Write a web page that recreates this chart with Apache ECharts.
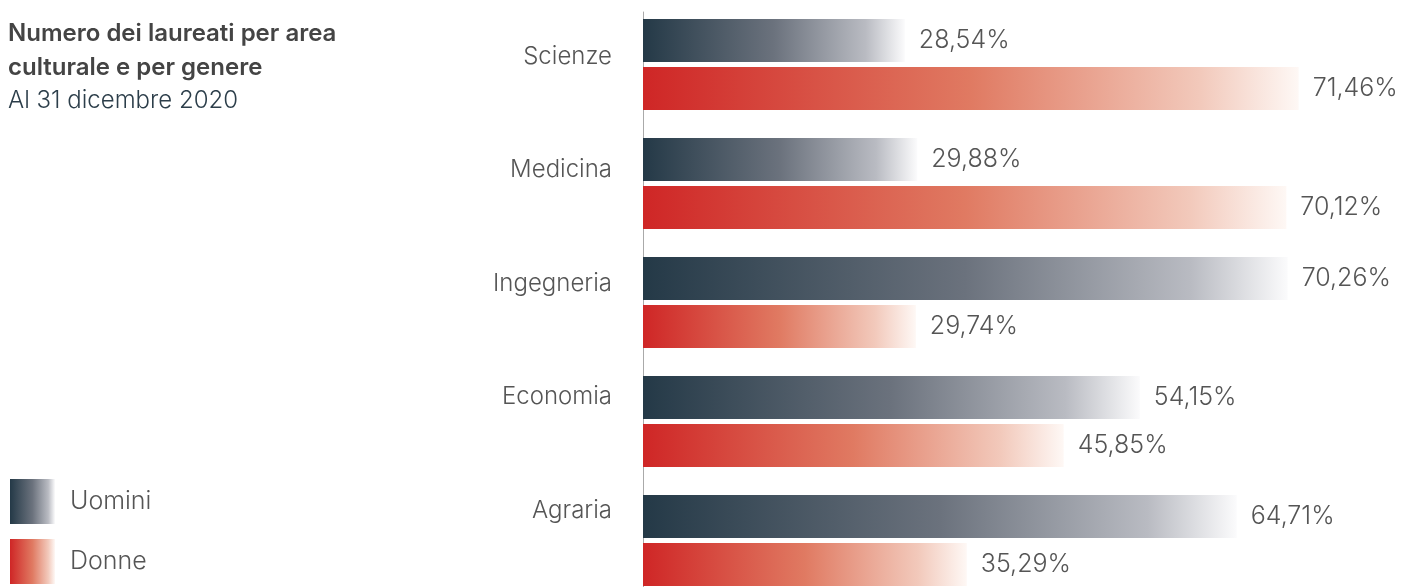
<!DOCTYPE html>
<html>
<head>
<meta charset="utf-8">
<script src="https://cdn.jsdelivr.net/npm/echarts@6/dist/echarts.min.js"></script>
<style>
    html, body { margin: 0; padding: 0; background: #fff; }
    #laureati { width: 1402px; height: 587px; }
</style>
</head>
<body>
<div id="laureati"></div>
<script>
// area culturale
var categories = ['Scienze', 'Medicina', 'Ingegneria', 'Economia', 'Agraria'];
// percentuali per genere
var uomini = [28.54, 29.88, 70.26, 54.15, 64.71];
var donne = [71.46, 70.12, 29.74, 45.85, 35.29];

var font = "Inter, 'Liberation Sans', Arial, sans-serif";

function percentLabel(p) {
    return p.value.toFixed(2).replace('.', ',') + '%';
}

var chart = echarts.init(document.getElementById('laureati'), null, {renderer: 'canvas'});

var option = {
    backgroundColor: '#fff',
    animation: false,
    title: {
        text: 'Numero dei laureati per area\nculturale e per genere',
        subtext: 'Al 31 dicembre 2020',
        left: 8,
        top: 17,
        padding: 0,
        itemGap: 0,
        textStyle: {
            fontFamily: font,
            fontSize: 24,
            fontWeight: 600,
            color: '#444',
            lineHeight: 34
        },
        subtextStyle: {
            fontFamily: font,
            fontSize: 24,
            fontWeight: 300,
            color: '#2c3e4a',
            lineHeight: 32
        }
    },
    legend: {
        orient: 'vertical',
        left: 10,
        top: 479,
        padding: 0,
        itemWidth: 45,
        itemHeight: 45,
        itemGap: 15,
        icon: 'rect',
        data: ['Uomini', 'Donne'],
        textStyle: {
            fontFamily: font,
            fontSize: 25,
            fontWeight: 300,
            color: '#555',
            padding: [0, 0, 0, 10]
        }
    },
    grid: [
        // barre
        {left: 643, right: 25, top: 5, height: 595, outerBoundsMode: 'none'},
        // etichette delle aree
        {left: 620, width: 10, top: 0, bottom: 20},
        // linea dell'asse
        {left: 643, width: 10, top: 12, bottom: 0}
    ],
    xAxis: [
        {type: 'value', gridIndex: 0, min: 0, max: 80, show: false},
        {type: 'value', gridIndex: 1, min: 0, max: 1, show: false},
        {type: 'value', gridIndex: 2, min: 0, max: 1, show: false}
    ],
    yAxis: [
        {
            type: 'category',
            gridIndex: 0,
            inverse: true,
            data: categories,
            axisLine: {show: false},
            axisTick: {show: false},
            axisLabel: {show: false},
            splitLine: {show: false}
        },
        {
            type: 'category',
            gridIndex: 1,
            inverse: true,
            data: categories,
            axisLine: {show: false},
            axisTick: {show: false},
            splitLine: {show: false},
            axisLabel: {
                margin: 8,
                fontFamily: font,
                fontSize: 24,
                fontWeight: 300,
                color: '#555'
            }
        },
        {
            type: 'value',
            gridIndex: 2,
            min: 0,
            max: 1,
            axisLine: {show: true, lineStyle: {color: '#aaa', width: 1}},
            axisTick: {show: false},
            axisLabel: {show: false},
            splitLine: {show: false}
        }
    ],
    series: [
        {
            name: 'Uomini',
            type: 'bar',
            xAxisIndex: 0,
            yAxisIndex: 0,
            barWidth: 43,
            barGap: '11.6%',
            itemStyle: {
                color: new echarts.graphic.LinearGradient(0, 0, 1, 0, [
                    {offset: 0, color: '#243947'},
                    {offset: 0.5, color: '#6b727d'},
                    {offset: 0.85, color: '#b9bbc2'},
                    {offset: 1, color: '#fbfbfc'}
                ])
            },
            label: {
                show: true,
                position: 'right',
                distance: 14,
                formatter: percentLabel,
                fontFamily: font,
                fontSize: 25,
                fontWeight: 300,
                color: '#555'
            },
            data: uomini
        },
        {
            name: 'Donne',
            type: 'bar',
            xAxisIndex: 0,
            yAxisIndex: 0,
            barWidth: 43,
            barGap: '11.6%',
            itemStyle: {
                color: new echarts.graphic.LinearGradient(0, 0, 1, 0, [
                    {offset: 0, color: '#cf2626'},
                    {offset: 0.5, color: '#e07a62'},
                    {offset: 0.85, color: '#f2c9bb'},
                    {offset: 1, color: '#fef8f5'}
                ])
            },
            label: {
                show: true,
                position: 'right',
                distance: 14,
                formatter: percentLabel,
                fontFamily: font,
                fontSize: 25,
                fontWeight: 300,
                color: '#555'
            },
            data: donne
        }
    ]
};

chart.setOption(option);
</script>
</body>
</html>
